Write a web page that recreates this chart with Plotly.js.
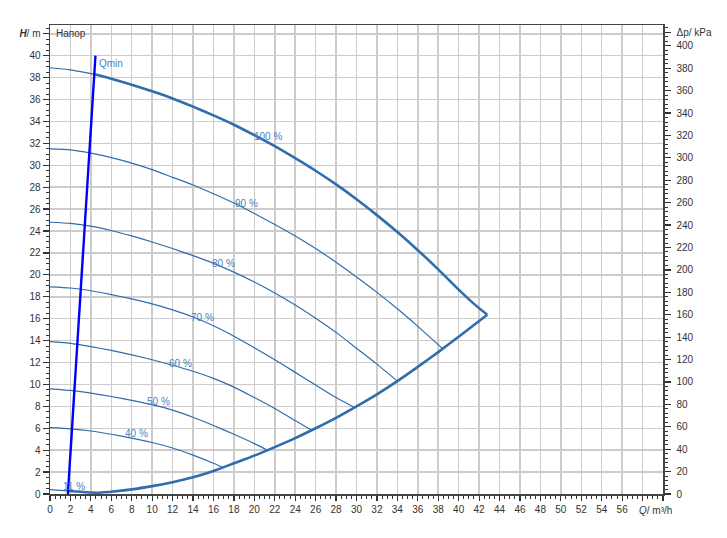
<!DOCTYPE html>
<html><head><meta charset="utf-8">
<script src="https://cdn.plot.ly/plotly-3.0.1.min.js"></script>
<style>html,body{margin:0;padding:0;background:#fff}</style>
</head><body><div id="chart" style="width:727px;height:538px"></div>
<script>
// Flow Q (m³/h) and head H (m)
const q100 = [0,2,4.35,6,8,10,12,14,16,18,20,22,24,26,28,30,32,34,36,38,40,41.5,42.8];
const h100 = [38.9,38.7,38.3,37.9,37.35,36.75,36.1,35.35,34.55,33.7,32.75,31.75,30.65,29.5,28.25,26.9,25.45,23.9,22.25,20.5,18.65,17.35,16.35];
const q90 = [0,2,4,6,8,10,12,14,16,18,20,22,24,26,28,30,32,34,36,38.45];
const h90 = [31.5,31.4,31.1,30.7,30.2,29.6,28.9,28.2,27.4,26.55,25.6,24.6,23.55,22.4,21.15,19.8,18.4,16.9,15.3,13.25];
const q80 = [0,2,4,6,8,10,12,14,16,18,20,22,24,26,28,30,32,34];
const h80 = [24.8,24.7,24.45,24.05,23.55,23.0,22.4,21.75,21.05,20.25,19.35,18.35,17.25,16.05,14.75,13.3,11.85,10.3];
const q70 = [0,2,4,6,8,10,12,14,16,18,20,22,24,26,28,29.8];
const h70 = [18.9,18.8,18.55,18.2,17.8,17.35,16.8,16.15,15.35,14.4,13.35,12.25,11.1,9.95,8.8,7.9];
const q60 = [0,2,4,6,8,10,12,14,16,18,20,22,24,25.6];
const h60 = [13.9,13.75,13.45,13.1,12.7,12.25,11.75,11.2,10.55,9.75,8.8,7.8,6.7,5.82];
const q50 = [0,2,4,6,8,10,12,14,16,18,20,21.3];
const h50 = [9.6,9.45,9.2,8.9,8.55,8.15,7.65,7.0,6.25,5.45,4.6,4.0];
const q40 = [0,2,4,6,8,10,12,14,16,16.9];
const h40 = [6.05,5.95,5.75,5.45,5.1,4.7,4.2,3.55,2.8,2.42];
const q11 = [0,1,1.75,3,4,4.8];
const h11 = [0.4,0.33,0.28,0.2,0.14,0.12];
const qEnd = [4.8,6,8,10,12,14,16,18,20,22,24,26,28,30,32,34,36,38,40,42.8];
const hEnd = [0.12,0.2,0.42,0.72,1.08,1.52,2.1,2.8,3.5,4.28,5.1,6.0,6.95,8.0,9.1,10.3,11.6,12.95,14.35,16.35];
const qMin = [1.75,4.45];
const hMin = [0,40];
const curveLabels = ['100 %','90 %','80 %','70 %','60 %','50 %','40 %','11 %'];
const labelQ = [21.3,19.2,17.0,14.9,12.8,10.6,8.5,2.35];
const labelH = [32.6,26.5,21.0,16.1,11.9,8.4,5.5,0.73];
const xTicks = [0,2,4,6,8,10,12,14,16,18,20,22,24,26,28,30,32,34,36,38,40,42,44,46,48,50,52,54,56,58,60];
const yTicks = [0,2,4,6,8,10,12,14,16,18,20,22,24,26,28,30,32,34,36,38,40,42];
const pTicks = [0,20,40,60,80,100,120,140,160,180,200,220,240,260,280,300,320,340,360,380,400,412];

const C = '#2f6dac';
const thin = (x,y)=>({x,y,mode:'lines',line:{color:C,width:1.2,shape:'spline',smoothing:0.6},hoverinfo:'skip',showlegend:false});
const thick = (x,y)=>({x,y,mode:'lines',line:{color:C,width:2.6,shape:'spline',smoothing:0.6},hoverinfo:'skip',showlegend:false});

const i100 = q100.findIndex(v=>v>=4.35);
const i11 = q11.findIndex(v=>v>=1.75);
const traces = [
  thin(q90,h90), thin(q80,h80), thin(q70,h70), thin(q60,h60), thin(q50,h50), thin(q40,h40),
  thin(q100.slice(0,i100+1),h100.slice(0,i100+1)),
  thick(q100.slice(i100),h100.slice(i100)),
  thin(q11.slice(0,i11+1),h11.slice(0,i11+1)),
  thick(q11.slice(i11),h11.slice(i11)),
  thick(qEnd,hEnd),
  {x:qMin,y:hMin,mode:'lines',line:{color:'#0000ff',width:2.4},hoverinfo:'skip',showlegend:false},
  {x:[0],y:[0],yaxis:'y2',mode:'markers',marker:{opacity:0},hoverinfo:'skip',showlegend:false}
];

const font = {family:'"Liberation Sans", Arial, sans-serif', size:10, color:'#333'};
const lblFont = {family:'"Liberation Sans", Arial, sans-serif', size:10, color:'#4a82c0'};
const annotations = curveLabels.map((t,i)=>({x:labelQ[i],y:labelH[i],text:t,showarrow:false,font:lblFont,xanchor:'center',yanchor:'middle'}));
annotations.push({x:4.62,y:39.3,text:'Qmin',showarrow:false,font:lblFont,xanchor:'left',yanchor:'middle'});
annotations.push({x:0.4,y:42,text:'Напор',showarrow:false,font:font,xanchor:'left',yanchor:'middle'});
annotations.push({x:57.5,xref:'x',y:-0.035,yref:'paper',text:'<i>Q</i>/ m³/h',showarrow:false,font:font,xanchor:'left',yanchor:'middle'});

const grid = '#cccccc';
const layout = {
  width:727,height:538,
  margin:{l:50,r:64,t:25,b:44},
  paper_bgcolor:'#fff',plot_bgcolor:'#fff',
  font:font,
  xaxis:{range:[0,60],tickmode:'array',tickvals:xTicks,ticktext:xTicks.map(v=>v>=58?'':String(v)),
    showgrid:true,gridcolor:grid,gridwidth:1.5,zeroline:false,
    showline:true,linecolor:'#444',linewidth:1.5,mirror:true,
    ticks:'outside',ticklen:5,tickcolor:'#333',tickwidth:1.2,
    minor:{tickmode:'linear',tick0:0,dtick:0.5,ticklen:3,tickcolor:'#333',tickwidth:1,showgrid:false},
    tickfont:font,fixedrange:true},
  yaxis:{range:[0,42.8],tickmode:'array',tickvals:yTicks,ticktext:yTicks.map(v=>v===42?'<b><i>H</i></b>/ m':String(v)),
    showgrid:true,gridcolor:grid,gridwidth:1.5,zeroline:false,
    showline:true,linecolor:'#444',linewidth:1.5,mirror:true,
    ticks:'outside',ticklen:6,tickcolor:'#333',tickwidth:1.2,
    minor:{tickmode:'linear',tick0:0,dtick:0.5,ticklen:3,tickcolor:'#333',tickwidth:1,showgrid:false},
    tickfont:font,fixedrange:true},
  yaxis2:{range:[0,42.8*9.78],overlaying:'y',side:'right',tickmode:'array',tickvals:pTicks,
    ticktext:pTicks.map(v=>v===412?'Δp/ kPa':String(v)),
    showgrid:false,zeroline:false,showline:true,linecolor:'#444',linewidth:1.5,
    ticks:'outside',ticklen:6,tickcolor:'#333',tickwidth:1.2,ticklabelstandoff:4,
    minor:{tickmode:'linear',tick0:0,dtick:4,ticklen:3,tickcolor:'#333',tickwidth:1},
    tickfont:font,fixedrange:true},
  annotations:annotations,
  showlegend:false
};
Plotly.newPlot('chart',traces,layout,{displayModeBar:false,staticPlot:true});
</script></body></html>
